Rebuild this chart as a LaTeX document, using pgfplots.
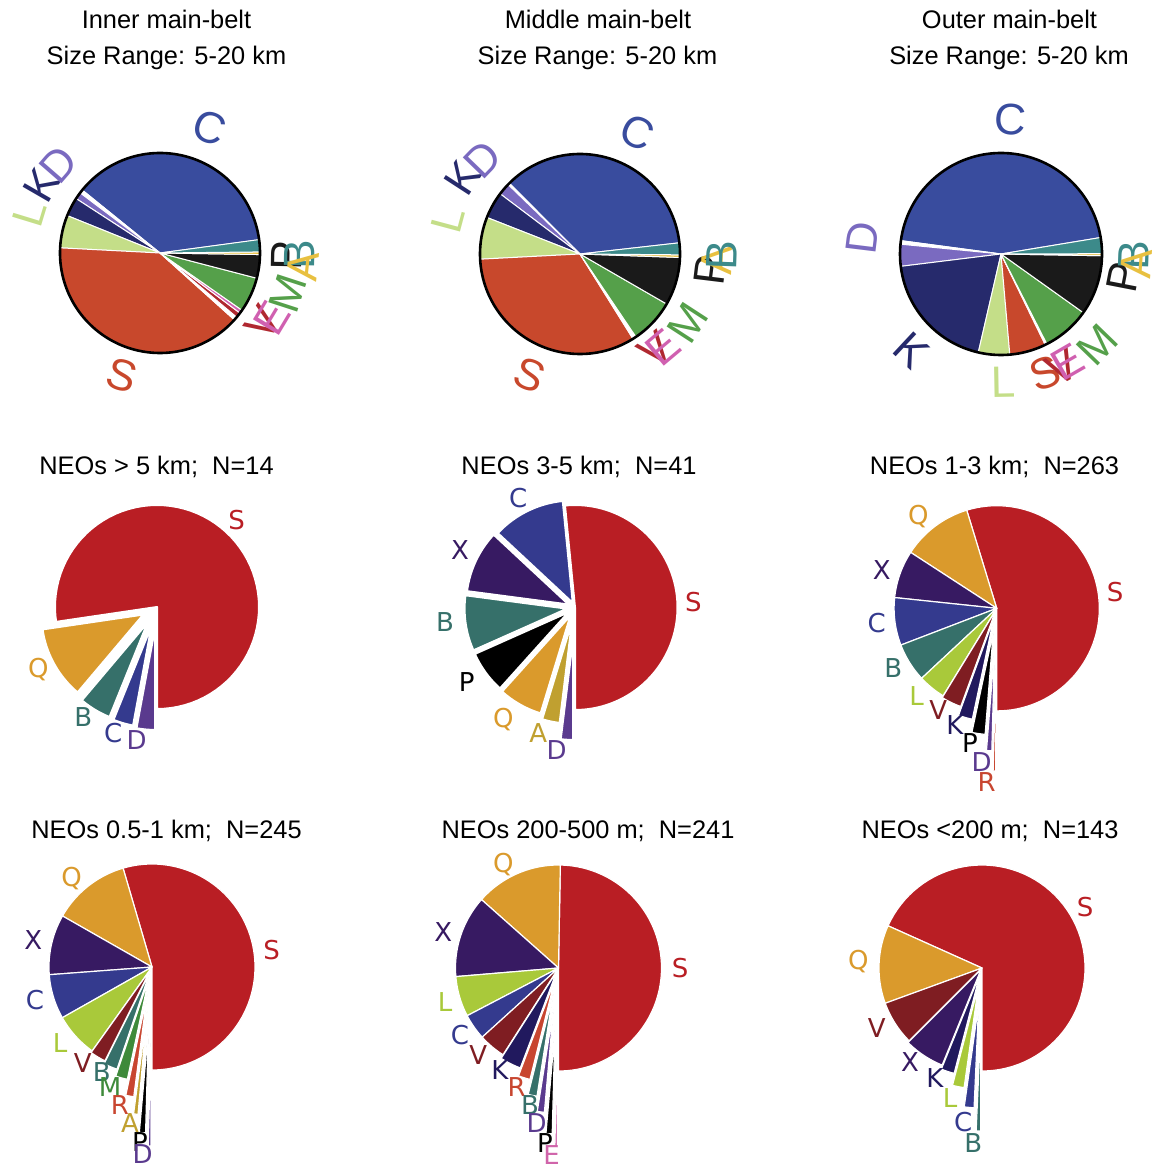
\documentclass[border=0pt]{standalone}
\usepackage{pgfplots}
\usepackage{pgfplotstable}
\pgfplotsset{compat=1.18}
\usepackage{fontspec}
\setmainfont{Liberation Sans}
\newfontfamily\dejavu{DejaVu Sans}

% NEO colours
\definecolor{nS}{RGB}{185,30,36}
\definecolor{nQ}{RGB}{218,154,44}
\definecolor{nX}{RGB}{55,26,98}
\definecolor{nC}{RGB}{52,58,142}
\definecolor{nB}{RGB}{54,112,106}
\definecolor{nL}{RGB}{169,201,58}
\definecolor{nV}{RGB}{127,29,34}
\definecolor{nK}{RGB}{33,25,94}
\definecolor{nP}{RGB}{0,0,0}
\definecolor{nD}{RGB}{90,58,142}
\definecolor{nR}{RGB}{200,70,48}
\definecolor{nA}{RGB}{192,160,48}
\definecolor{nM}{RGB}{62,138,58}
\definecolor{nE}{RGB}{208,100,170}
% main-belt colours
\definecolor{tC}{RGB}{57,76,158}
\definecolor{tS}{RGB}{200,72,44}
\definecolor{tK}{RGB}{38,42,108}
\definecolor{tL}{RGB}{196,222,136}
\definecolor{tD}{RGB}{122,106,192}
\definecolor{tM}{RGB}{85,160,74}
\definecolor{tP}{RGB}{26,26,26}
\definecolor{tB}{RGB}{60,138,138}
\definecolor{tA}{RGB}{232,192,64}
\definecolor{tV}{RGB}{176,40,48}
\definecolor{tE}{RGB}{208,96,176}
\definecolor{tW}{RGB}{255,255,255}

% ---------- data: percentages, counter-clockwise order ----------
\pgfplotstableread{
cls pct ex col
C 37.06 0 tC
- 0.56 0 tW
D 1.11 0 tD
K 3.06 0 tK
L 5.28 0 tL
S 39.17 0 tS
- 0.56 0 tW
V 0.83 0 tV
E 0.56 0 tE
M 5.64 0 tM
P 3.81 0 tP
A 0.42 0 tA
B 1.97 0 tB
}\pieInner
\pgfplotstableread{
cls pct ex col
C 35.72 0 tC
- 0.28 0 tW
D 1.94 0 tD
K 4.33 0 tK
L 6.78 0 tL
S 33.06 0 tS
V 0.17 0 tV
E 0.17 0 tE
- 0.22 0 tW
M 7.22 0 tM
P 7.78 0 tP
A 0.42 0 tA
B 1.92 0 tB
}\pieMiddle
\pgfplotstableread{
cls pct ex col
C 45.28 0 tC
- 0.56 0 tW
D 3.50 0 tD
K 19.44 0 tK
L 5.00 0 tL
S 5.83 0 tS
V 0.14 0 tV
E 0.14 0 tE
M 7.64 0 tM
P 9.58 0 tP
A 0.33 0 tA
B 2.56 0 tB
}\pieOuter
\pgfplotstableread{
cls pct ex col
S 77.33 0 nS
Q 11.50 15.5 nQ
B 5.06 18 nB
C 3.19 19 nC
D 2.92 21 nD
}\pieGtFive
\pgfplotstableread{
cls pct ex col
S 51.56 0 nS
C 11.50 5 nC
X 9.86 7 nX
B 8.75 8 nB
P 6.67 8 nP
Q 6.94 9 nQ
A 2.78 14 nA
D 1.94 30 nD
}\pieThreeFive
\pgfplotstableread{
cls pct ex col
S 54.72 0 nS
Q 11.11 0 nQ
X 7.50 0 nX
C 7.50 0 nC
B 6.11 0 nB
L 4.31 0 nL
V 3.19 2 nV
K 2.22 11 nK
P 2.08 24 nP
D 0.83 40 nD
R 0.42 60 nR
}\pieOneThree
\pgfplotstableread{
cls pct ex col
S 54.53 0 nS
Q 12.22 0 nQ
X 9.44 0 nX
C 7.00 0 nC
L 6.94 0 nL
V 2.50 2 nV
B 2.17 5 nB
M 1.86 12 nM
R 1.25 28 nR
A 0.69 45 nA
P 0.97 63 nP
D 0.42 76 nD
}\pieHalfOne
\pgfplotstableread{
cls pct ex col
S 49.72 0 nS
Q 13.72 0 nQ
X 12.89 0 nX
L 6.33 0 nL
C 4.06 0 nC
V 4.22 0 nV
K 3.31 4 nK
R 1.86 12 nR
B 1.39 27 nB
D 1.11 42 nD
P 0.97 63 nP
E 0.42 76 nE
}\pieTwoFive
\pgfplotstableread{
cls pct ex col
S 68.28 0 nS
Q 12.28 0 nQ
V 6.94 0 nV
X 6.36 2 nX
K 2.08 6 nK
L 1.83 18 nL
C 1.53 37 nC
B 0.69 60 nB
}\pieSmall

% #1 table, #2 cx, #3 cy, #4 r, #5 start angle, #6 border width
\newcommand{\drawpie}[6]{%
  \pgfplotstablegetrowsof{#1}%
  \pgfmathtruncatemacro\nlast{\pgfplotsretval-1}%
  \xdef\pang{#5}%
  \pgfplotsforeachungrouped \rowidx in {0,...,\nlast}{%
    \pgfplotstablegetelem{\rowidx}{pct}\of{#1}\let\vpct\pgfplotsretval
    \pgfplotstablegetelem{\rowidx}{ex}\of{#1}\let\vex\pgfplotsretval
    \pgfplotstablegetelem{\rowidx}{col}\of{#1}\let\vcol\pgfplotsretval
    \pgfmathsetmacro\aA{\pang}%
    \pgfmathsetmacro\aB{\pang+3.6*\vpct}%
    \pgfmathsetmacro\aM{(\aA+\aB)/2}%
    \pgfmathsetmacro\ox{#2+\vex*cos(\aM)}%
    \pgfmathsetmacro\oy{#3-\vex*sin(\aM)}%
    \edef\tmp{\noexpand\addplot[fill=\vcol, draw=white, line width=#6, line join=round, domain=\aA:\aB, samples=72] ({\ox+#4*cos(x)},{\oy-#4*sin(x)}) -- (axis cs:\ox,\oy) -- cycle;}%
    \tmp
    \xdef\pang{\aB}%
  }%
}
\newcommand{\ring}[3]{%
  \addplot[draw=black, line width=1.3pt, domain=0:360, samples=181] ({#1+#3*cos(x)},{#2-#3*sin(x)});
}
\newcommand{\titlefont}{\fontsize{12.7}{15}\selectfont}
\newcommand{\nfont}{\dejavu\fontsize{13}{15}\selectfont}
\newcommand{\tfont}{\fontsize{22}{24}\selectfont}
\newcommand{\nlab}[4]{\node[text=#1, font=\nfont, inner sep=0pt] at (axis cs:#2,#3) {#4};}
\newcommand{\tlab}[5]{\node[text=#1, font=\tfont, inner sep=0pt, rotate=#4] at (axis cs:#2,#3) {#5};}
\newcommand{\ttl}[3]{\node[font=\titlefont, anchor=base, inner sep=0pt] at (axis cs:#1,#2) {#3};}

\begin{document}
\begin{tikzpicture}
\begin{axis}[
  x=0.5pt, y=0.5pt, xmin=0, xmax=1154, ymin=0, ymax=1165,
  y dir=reverse, hide axis, clip=false, axis equal=false]

% ---------- top row ----------
\drawpie{\pieInner}{160}{253}{100}{7.6}{0.5pt}
\ring{160}{253}{100}
\drawpie{\pieMiddle}{580}{254}{100}{6.4}{0.5pt}
\ring{580}{254}{100}
\drawpie{\pieOuter}{1001}{254}{101}{9.4}{0.5pt}
\ring{1001}{254}{101}

% ---------- middle row ----------
\drawpie{\pieGtFive}{157}{607}{102}{-90}{1pt}
\drawpie{\pieThreeFive}{575}{607.5}{102.5}{-90}{1pt}
\drawpie{\pieOneThree}{996.7}{608.3}{102.6}{-90}{0.6pt}

% ---------- bottom row ----------
\drawpie{\pieHalfOne}{152}{967}{103}{-90}{0.6pt}
\drawpie{\pieTwoFive}{558.5}{968}{103}{-90}{0.6pt}
\drawpie{\pieSmall}{982}{968}{103}{-90}{0.6pt}

% ---------- titles ----------
\ttl{166.5}{29}{Inner main-belt}
\ttl{166.5}{65}{Size Range: 5-20 km}
\ttl{598}{29}{Middle main-belt}
\ttl{597.5}{65}{Size Range: 5-20 km}
\ttl{1009.5}{29}{Outer main-belt}
\ttl{1009}{65}{Size Range: 5-20 km}
\ttl{156.5}{474}{NEOs > 5 km;\ \ N=14}
\ttl{579}{474}{NEOs 3-5 km;\ \ N=41}
\ttl{994.5}{474}{NEOs 1-3 km;\ \ N=263}
\ttl{166.5}{838}{NEOs 0.5-1 km;\ \ N=245}
\ttl{588}{838}{NEOs 200-500 m;\ \ N=241}
\ttl{990}{838}{NEOs <200 m;\ \ N=143}

% ---------- top row labels ----------
\tlab{tC}{210}{128}{-20}{C}
\tlab{tK}{42}{185}{60}{K}
\tlab{tD}{58}{165}{49}{D}
\tlab{tL}{30}{213}{73}{L}
\tlab{tS}{122}{375}{-17}{S}
\tlab{tV}{263}{323}{56}{V}
\tlab{tE}{272}{318}{59}{E}
\tlab{tM}{288}{293}{72}{M}
\tlab{tP}{287}{256}{89}{P}
\tlab{tB}{300}{255}{89}{B}
\tlab{tA}{303}{266}{84}{A}

\tlab{tC}{637}{132}{-25}{C}
\tlab{tK}{463}{178}{57}{K}
\tlab{tD}{483}{160}{46}{D}
\tlab{tL}{448}{220}{75}{L}
\tlab{tS}{530}{375}{-22}{S}
\tlab{tV}{655}{350}{39}{V}
\tlab{tE}{663}{347}{40}{E}
\tlab{tM}{688}{323}{57}{M}
\tlab{tP}{710}{270}{83}{P}
\tlab{tA}{717}{260}{88}{A}
\tlab{tB}{722}{255}{88}{B}

\tlab{tC}{1010}{120}{-4}{C}
\tlab{tD}{862}{238}{83}{D}
\tlab{tK}{912}{350}{-43}{K}
\tlab{tL}{1003}{382}{1}{L}
\tlab{tS}{1045}{373}{20}{S}
\tlab{tV}{1062}{367}{28}{V}
\tlab{tE}{1068}{362}{30}{E}
\tlab{tM}{1097}{345}{46}{M}
\tlab{tP}{1123}{277}{79}{P}
\tlab{tB}{1134}{255}{88}{B}
\tlab{tA}{1136}{264}{86}{A}

% ---------- NEO labels ----------
\nlab{nS}{236.7}{520}{S}
\nlab{nQ}{38.3}{670}{Q}
\nlab{nB}{83.3}{716.7}{B}
\nlab{nC}{113.3}{733.3}{C}
\nlab{nD}{136.7}{740}{D}

\nlab{nC}{518.3}{498.3}{C}
\nlab{nX}{460}{550}{X}
\nlab{nB}{445}{621.7}{B}
\nlab{nP}{466.7}{681.7}{P}
\nlab{nQ}{503.3}{720}{Q}
\nlab{nA}{538.3}{733.3}{A}
\nlab{nD}{556.7}{750}{D}
\nlab{nS}{693.3}{601.7}{S}

\nlab{nQ}{918.3}{516.7}{Q}
\nlab{nX}{881.7}{570}{X}
\nlab{nC}{876.7}{623.3}{C}
\nlab{nB}{893.3}{668.3}{B}
\nlab{nL}{916.7}{696}{L}
\nlab{nV}{938.3}{710}{V}
\nlab{nK}{955}{725}{K}
\nlab{nP}{970}{743.3}{P}
\nlab{nD}{981.7}{761.7}{D}
\nlab{nR}{986.7}{781.7}{R}
\nlab{nS}{1115}{591.7}{S}

\nlab{nQ}{71.7}{878.3}{Q}
\nlab{nX}{33.3}{940}{X}
\nlab{nC}{35}{1000}{C}
\nlab{nL}{60}{1043.3}{L}
\nlab{nV}{82.7}{1063.3}{V}
\nlab{nB}{101.7}{1071.7}{B}
\nlab{nM}{110}{1086.7}{M}
\nlab{nR}{120}{1105}{R}
\nlab{nA}{130}{1123.3}{A}
\nlab{nP}{140}{1141.7}{P}
\nlab{nD}{142.7}{1154}{D}
\nlab{nS}{271.7}{950}{S}

\nlab{nQ}{503.3}{865}{Q}
\nlab{nX}{443.3}{931.7}{X}
\nlab{nL}{445}{1001.7}{L}
\nlab{nC}{460}{1035}{C}
\nlab{nV}{478.3}{1055}{V}
\nlab{nK}{500}{1070}{K}
\nlab{nR}{516.7}{1086.7}{R}
\nlab{nB}{530}{1105}{B}
\nlab{nD}{536.7}{1123.3}{D}
\nlab{nP}{545}{1143.3}{P}
\nlab{nE}{551.7}{1155.5}{E}
\nlab{nS}{680}{968.3}{S}

\nlab{nS}{1085}{906.7}{S}
\nlab{nQ}{858.3}{961.7}{Q}
\nlab{nV}{876.7}{1028.3}{V}
\nlab{nX}{910}{1061.7}{X}
\nlab{nK}{935}{1078.3}{K}
\nlab{nL}{950}{1098.3}{L}
\nlab{nC}{963.3}{1121.7}{C}
\nlab{nB}{973.3}{1143.3}{B}
\end{axis}
\pgfresetboundingbox
\path (0,0) rectangle (577pt,582.5pt);
\end{tikzpicture}
\end{document}
